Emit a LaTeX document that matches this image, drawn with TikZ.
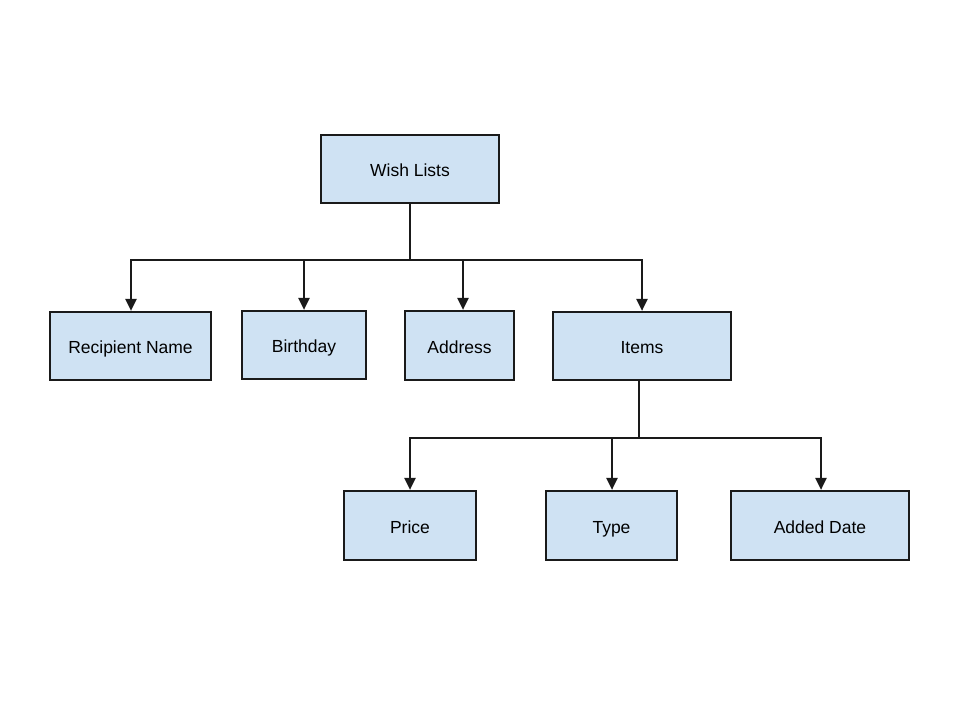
\documentclass[tikz,border=0pt]{standalone}
\usepackage{fontspec}
\setmainfont{Liberation Sans}
\usetikzlibrary{arrows.meta}
\definecolor{boxblue}{HTML}{CFE2F3}
\definecolor{edge}{HTML}{1A1A1A}
\begin{document}
\begin{tikzpicture}[x=1pt,y=-1pt,
  box/.style={draw=edge, fill=boxblue, line width=2.2pt, inner sep=0pt, text height=15.5pt, text depth=0pt, font=\fontsize{17.5}{20}\selectfont},
  conn/.style={line width=2.2pt, draw=edge},
  arr/.style={conn, -{Triangle[length=12pt,width=11pt]}}]
\useasboundingbox (0,0) rectangle (960,720);
\node[box, minimum width=178pt, minimum height=68pt] (wish) at (410,169) {Wish Lists};
\node[box, minimum width=161pt, minimum height=68pt] (rn) at (130.5,346) {Recipient Name};
\node[box, minimum width=124pt, minimum height=68pt] (bd) at (304,345) {Birthday};
\node[box, minimum width=109pt, minimum height=69pt] (ad) at (459.5,345.5) {Address};
\node[box, minimum width=178pt, minimum height=68pt] (it) at (642,346) {Items};
\node[box, minimum width=132pt, minimum height=69pt] (pr) at (410,525.5) {Price};
\node[box, minimum width=131pt, minimum height=69pt] (ty) at (611.5,525.5) {Type};
\node[box, minimum width=178pt, minimum height=69pt] (dt) at (820,525.5) {Added Date};
\coordinate (j1) at (410,260);
\coordinate (j2) at (639,438);
\draw[conn] (wish.south) -- (j1);
\draw[arr] (j1) -| ([xshift=0.5pt]rn.north);
\draw[arr] (j1) -| (bd.north);
\draw[arr] (j1) -| ([xshift=3.5pt]ad.north);
\draw[arr] (j1) -| (it.north);
\draw[conn] (it.south -| j2) -- (j2);
\draw[arr] (j2) -| (pr.north);
\draw[arr] (j2) -| ([xshift=0.5pt]ty.north);
\draw[arr] (j2) -| ([xshift=1pt]dt.north);
\end{tikzpicture}
\end{document}
